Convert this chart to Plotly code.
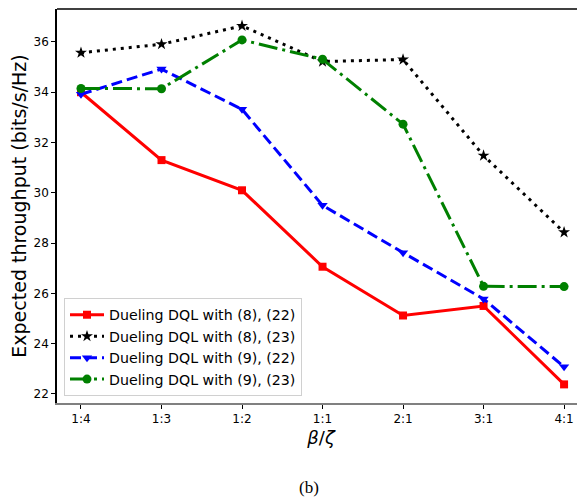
import plotly.graph_objects as go

categories = ["1:4", "1:3", "1:2", "1:1", "2:1", "3:1", "4:1"]
red_8_22 = [34.0, 31.3, 30.1, 27.06, 25.12, 25.5, 22.38]
black_8_23 = [35.57, 35.91, 36.64, 35.22, 35.30, 31.48, 28.43]
blue_9_22 = [33.92, 34.92, 33.32, 29.50, 27.62, 25.78, 23.08]
green_9_23 = [34.15, 34.14, 36.08, 35.31, 32.73, 26.28, 26.27]
names = ["Dueling DQL with (8), (22)", "Dueling DQL with (8), (23)",
         "Dueling DQL with (9), (22)", "Dueling DQL with (9), (23)"]

# page has an 8px body margin; the figure is sized to compensate
W, H = 577, 491
L, T, B = 49, 1, 96
plot_w = W - L
plot_h = H - T - B

xs = list(range(len(categories)))
fig = go.Figure()
specs = [
    (red_8_22, "red", "solid", "square", 8),
    (black_8_23, "black", "3px,5px", "star", 9),
    (blue_9_22, "blue", "11px,5px", "triangle-down", 9),
    (green_9_23, "green", "19px,5px,3px,5px", "circle", 9),
]
for (vals, col, dash, sym, ms), nm in zip(specs, names):
    fig.add_trace(go.Scatter(
        x=xs, y=vals, name=nm, mode="lines+markers",
        line=dict(color=col, width=3, dash=dash),
        marker=dict(symbol=sym, size=ms, color=col),
    ))

fig.update_layout(
    width=W, height=H,
    margin=dict(l=L, r=0, t=T, b=B, autoexpand=False),
    plot_bgcolor="white", paper_bgcolor="white",
    font=dict(family="DejaVu Sans", color="black"),
    showlegend=True,
    legend=dict(x=(64 - 57) / plot_w, y=(403 - 396) / plot_h, xanchor="left", yanchor="bottom",
                bgcolor="rgba(255,255,255,0.85)", bordercolor="#d0d0d0", borderwidth=1,
                font=dict(size=14.2, family="DejaVu Sans"), tracegroupgap=0,
                itemwidth=34),
)
fig.update_xaxes(
    range=[-0.298, 6.26], tickmode="array", tickvals=xs, ticktext=categories,
    showgrid=False, zeroline=False, showline=True, linecolor="#808080", linewidth=2,
    ticks="outside", ticklen=4, tickcolor="black", tickfont=dict(size=12),
    title=dict(text="<i>β</i>/<i>ζ</i>", font=dict(size=18), standoff=6),
    automargin=False,
)
fig.update_yaxes(
    range=[21.64, 37.31], tickvals=[22, 24, 26, 28, 30, 32, 34, 36],
    showgrid=False, zeroline=False, showline=True, linecolor="black", linewidth=1.5,
    ticks="outside", ticklen=4, tickcolor="black", tickfont=dict(size=12),
    title=dict(text="Expected throughput (bits/s/Hz)", font=dict(size=19), standoff=6),
    automargin=False,
)
fig.add_shape(type="line", xref="paper", yref="paper", x0=0, x1=1, y0=1, y1=1,
              line=dict(color="black", width=1.5))
fig.add_annotation(text="(b)", xref="paper", yref="paper", x=(309 - 57) / plot_w,
                   y=-(487 - 403) / plot_h,
                   showarrow=False, font=dict(family="Liberation Serif", size=17),
                   xanchor="center", yanchor="middle")
fig.write_html("out.html")
